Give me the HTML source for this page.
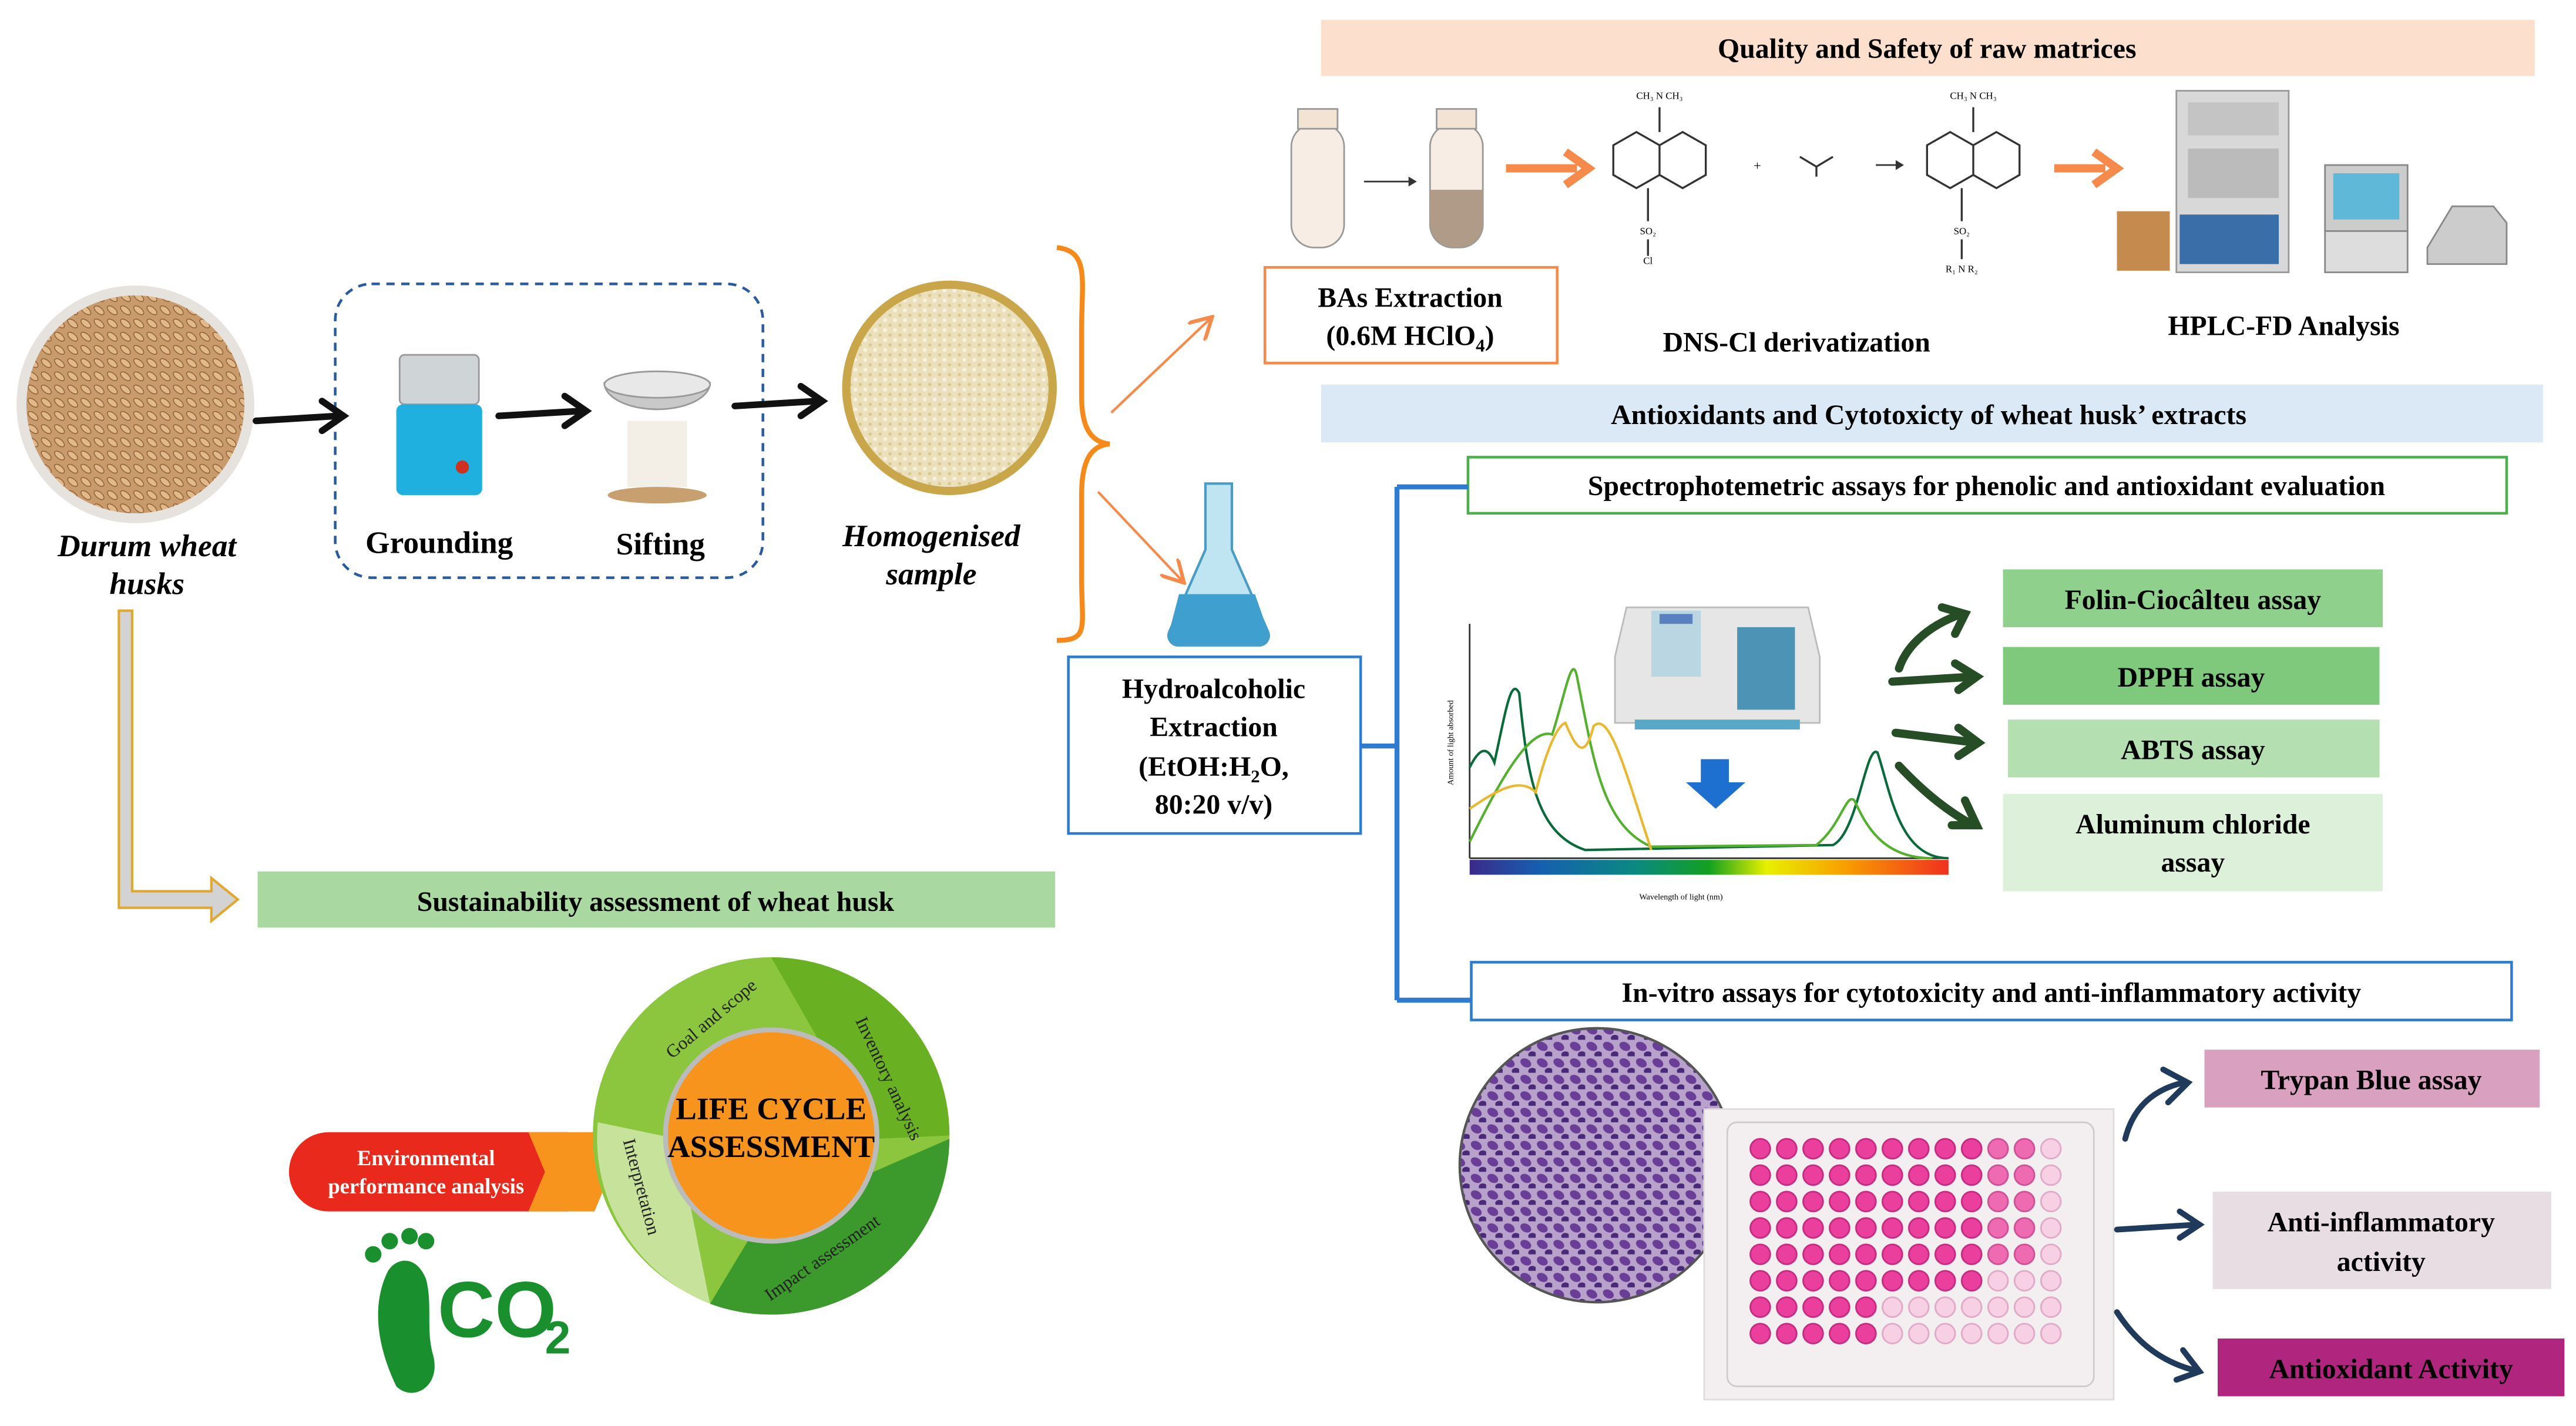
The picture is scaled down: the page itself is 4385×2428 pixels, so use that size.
<!DOCTYPE html>
<html><head><meta charset="utf-8"><style>html,body{margin:0;padding:0;background:#fff}svg{display:block}</style></head><body>
<svg width="4385" height="2428" viewBox="0 0 1560 864" preserveAspectRatio="none" xmlns="http://www.w3.org/2000/svg" font-family="Liberation Serif, serif">
<defs>
<radialGradient id="wheat" cx="50%" cy="50%" r="50%"><stop offset="0" stop-color="#c9986a"/><stop offset="0.85" stop-color="#b88556"/><stop offset="1" stop-color="#e8e4e0"/></radialGradient>
<radialGradient id="flour" cx="50%" cy="50%" r="50%"><stop offset="0" stop-color="#efe3bf"/><stop offset="0.85" stop-color="#e4d6a8"/><stop offset="1" stop-color="#c9a64a"/></radialGradient>
<pattern id="wellpat" x="1058" y="688" width="16" height="16" patternUnits="userSpaceOnUse"><circle cx="8" cy="8" r="6" fill="#ea3f9c" stroke="#c42a80" stroke-width="1"/></pattern>
<pattern id="wellpale" x="1058" y="688" width="16" height="16" patternUnits="userSpaceOnUse"><circle cx="8" cy="8" r="6" fill="#f8d0e4" stroke="#e0a8c8" stroke-width="1"/></pattern>
<pattern id="cellpat" width="10" height="10" patternUnits="userSpaceOnUse"><rect width="10" height="10" fill="#b8a2cc"/><ellipse cx="4" cy="4" rx="3.5" ry="2.5" fill="#6a3d96" transform="rotate(30 4 4)"/><ellipse cx="8" cy="9" rx="2.5" ry="2" fill="#4a2a78"/></pattern>
<pattern id="grain" width="8" height="8" patternUnits="userSpaceOnUse"><rect width="8" height="8" fill="#c99a6c"/><ellipse cx="4" cy="4" rx="3.6" ry="1.8" fill="#e2b98a" stroke="#8a5a32" stroke-width="0.5" transform="rotate(40 4 4)"/></pattern>
<pattern id="flourpat" width="6" height="6" patternUnits="userSpaceOnUse"><rect width="6" height="6" fill="#ebe0bb"/><circle cx="2" cy="2" r="1.2" fill="#f8f2dc"/><circle cx="5" cy="5" r="1" fill="#d8c990"/></pattern>
<linearGradient id="spec" x1="0" x2="1"><stop offset="0" stop-color="#3b2a8a"/><stop offset="0.15" stop-color="#1560b0"/><stop offset="0.35" stop-color="#0b8a80"/><stop offset="0.5" stop-color="#12a020"/><stop offset="0.62" stop-color="#e8f000"/><stop offset="0.78" stop-color="#f8a000"/><stop offset="1" stop-color="#f03020"/></linearGradient>
<marker id="oa" markerWidth="10" markerHeight="10" refX="8" refY="5" orient="auto"><path d="M0,0 L9,5 L0,10" fill="none" stroke="#f58a4a" stroke-width="1.5"/></marker>
</defs>

<rect x="800" y="12" width="735" height="34" fill="#fce0cd"/>
<text x="1167" y="35" font-size="17" font-weight="bold" text-anchor="middle">Quality and Safety of raw matrices</text>
<rect x="782" y="75" width="32" height="75" rx="14" fill="#f8ede4" stroke="#999"/>
<rect x="786" y="66" width="24" height="12" fill="#f3e3d3" stroke="#999"/>
<rect x="866" y="75" width="32" height="75" rx="14" fill="#f8ede4" stroke="#999"/>
<path d="M866,115 H898 V136 A16,14 0 0 1 866,136 Z" fill="#b09a88"/>
<rect x="870" y="66" width="24" height="12" fill="#f3e3d3" stroke="#999"/>
<path d="M826,110 H856" stroke="#333" stroke-width="1"/><path d="M853,107 L858,110 L853,113" fill="#333"/>
<path d="M912,102 H955" stroke="#f58a4a" stroke-width="5"/><path d="M948,92 L962,102 L948,112" fill="none" stroke="#f58a4a" stroke-width="5"/>
<path d="M1244,102 H1275" stroke="#f58a4a" stroke-width="5"/><path d="M1268,92 L1282,102 L1268,112" fill="none" stroke="#f58a4a" stroke-width="5"/>
<g fill="none" stroke="#333" stroke-width="1.2">
<path d="M977,88 l14,-8 14,8 v18 l-14,8 -14,-8z M1005,88 l14,-8 14,8 v18 l-14,8 -14,-8z M1005,80 v-15 M998,114 v20 M998,145 v10"/>
<path d="M1167,88 l14,-8 14,8 v18 l-14,8 -14,-8z M1195,88 l14,-8 14,8 v18 l-14,8 -14,-8z M1195,80 v-15 M1188,114 v20 M1188,145 v12"/>
<path d="M1090,95 l10,6 10,-6 M1100,101 v6"/>
</g>
<text x="1005" y="60" font-size="6" text-anchor="middle">CH₃ N CH₃</text><text x="998" y="142" font-size="6" text-anchor="middle">SO₂</text><text x="998" y="160" font-size="6" text-anchor="middle">Cl</text>
<text x="1195" y="60" font-size="6" text-anchor="middle">CH₃ N CH₃</text><text x="1188" y="142" font-size="6" text-anchor="middle">SO₂</text><text x="1188" y="165" font-size="6" text-anchor="middle">R₁ N R₂</text>
<text x="1062" y="103" font-size="8">+</text><path d="M1136,100 h14" stroke="#333"/><path d="M1148,97 l5,3 -5,3" fill="#333"/>
<rect x="1318" y="55" width="68" height="110" fill="#d8d8d8" stroke="#999"/>
<rect x="1325" y="62" width="55" height="20" fill="#c4c4c4"/><rect x="1325" y="90" width="55" height="30" fill="#bbb"/>
<rect x="1320" y="130" width="60" height="30" fill="#3a6ea8"/>
<rect x="1282" y="128" width="32" height="36" fill="#c58a4e"/>
<rect x="1408" y="100" width="50" height="40" fill="#ccc" stroke="#888"/><rect x="1413" y="105" width="40" height="28" fill="#5fb8d8"/>
<rect x="1408" y="140" width="50" height="25" fill="#ddd" stroke="#888"/>
<path d="M1470,150 l15,-25 h25 l8,10 v25 h-48z" fill="#ccc" stroke="#888"/>
<rect x="766" y="162" width="177" height="58" fill="#fff" stroke="#f58a4a" stroke-width="1.6"/>
<text x="854" y="186" font-size="17" font-weight="bold" text-anchor="middle">BAs Extraction</text>
<text x="854" y="209" font-size="17" font-weight="bold" text-anchor="middle">(0.6M HClO<tspan font-size="11" dy="4">4</tspan><tspan dy="-4">)</tspan></text>
<text x="1088" y="213" font-size="17" font-weight="bold" text-anchor="middle">DNS-Cl derivatization</text>
<text x="1383" y="203" font-size="17" font-weight="bold" text-anchor="middle">HPLC-FD Analysis</text>

<rect x="800" y="233" width="740" height="35" fill="#dbe9f6"/>
<text x="1168" y="257" font-size="17" font-weight="bold" text-anchor="middle">Antioxidants  and Cytotoxicty of wheat husk’ extracts</text>
<rect x="889" y="277" width="629" height="34" fill="#fff" stroke="#4cae4c" stroke-width="1.6"/>
<text x="1203" y="300" font-size="17" font-weight="bold" text-anchor="middle">Spectrophotemetric assays for phenolic and antioxidant evaluation</text>
<path d="M824,452 H846 M846,295 V606 M846,295 H889 M846,606 H891" stroke="#2e7bd0" stroke-width="3" fill="none"/>
<rect x="647" y="398" width="177" height="107" fill="#fff" stroke="#2e7bd0" stroke-width="1.6"/>
<g font-size="17" font-weight="bold" text-anchor="middle"><text x="735" y="423">Hydroalcoholic</text><text x="735" y="446">Extraction</text><text x="735" y="470">(EtOH:H<tspan font-size="11" dy="4">2</tspan><tspan dy="-4">O,</tspan></text><text x="735" y="493">80:20 v/v)</text></g>
<path d="M730,293 h16 v40 l22,50 a6,6 0 0 1 -5,8 h-50 a6,6 0 0 1 -5,-8 l22,-50z" fill="#bfe4f2" stroke="#4a9cc4" stroke-width="1.5"/>
<path d="M714,360 h46 l8,23 a6,6 0 0 1 -5,8 h-50 a6,6 0 0 1 -5,-8z" fill="#3f9fcf"/>
<path d="M890,520 V378 M890,520 H1180" stroke="#333" stroke-width="1"/>
<rect x="890" y="521" width="290" height="9" fill="url(#spec)"/>
<text x="1018" y="545" font-size="5" text-anchor="middle">Wavelength of light (nm)</text>
<text x="880" y="450" font-size="5" transform="rotate(-90 880 450)" text-anchor="middle">Amount of light absorbed</text>
<path d="M890,465 C895,455 900,450 905,462 C912,430 915,410 920,420 C925,470 930,505 960,515 L1110,512 C1125,505 1130,450 1137,456 C1145,480 1150,520 1180,520" fill="none" stroke="#0a6b3a" stroke-width="1.5"/>
<path d="M890,510 C905,480 925,440 940,445 C948,420 952,395 955,410 C965,460 970,500 1000,513 L1100,512 C1115,500 1118,480 1123,485 C1130,500 1140,520 1170,520" fill="none" stroke="#55b030" stroke-width="1.5"/>
<path d="M890,490 C905,480 920,470 930,480 C935,460 942,440 948,438 C955,455 960,460 965,440 C975,430 985,470 1000,515" fill="none" stroke="#e8b830" stroke-width="1.5"/>
<path d="M985,368 h110 l7,30 v40 h-124 v-40z" fill="#e6e6e6" stroke="#bbb"/>
<rect x="1000" y="370" width="30" height="40" fill="#b9d6e2"/><rect x="1005" y="372" width="20" height="6" fill="#5a80c0"/>
<rect x="1052" y="380" width="35" height="50" fill="#4c93b5"/>
<rect x="990" y="436" width="100" height="6" fill="#5aa8c8"/>
<path d="M1030,460 h17 v14 h10 l-18,16 -18,-16 h9z" fill="#1d6fd0"/>
<g fill="none" stroke="#264d25" stroke-width="5" stroke-linecap="round">
<path d="M1150,405 C1155,390 1170,378 1188,372"/><path d="M1176,368 L1190,372 L1184,384"/>
<path d="M1146,413 L1195,410"/><path d="M1184,402 L1197,410 L1186,418"/>
<path d="M1148,444 L1197,450"/><path d="M1186,441 L1198,450 L1186,458"/>
<path d="M1150,464 C1165,480 1180,492 1195,500"/><path d="M1190,485 L1197,500 L1182,500"/>
</g>
<rect x="1213" y="345" width="230" height="35" fill="#8fd08c"/><text x="1328" y="369" font-size="17" font-weight="bold" text-anchor="middle">Folin-Ciocâlteu  assay</text>
<rect x="1213" y="392" width="228" height="35" fill="#7ec97b"/><text x="1327" y="416" font-size="17" font-weight="bold" text-anchor="middle">DPPH assay</text>
<rect x="1216" y="436" width="225" height="35" fill="#b4dfb0"/><text x="1328" y="460" font-size="17" font-weight="bold" text-anchor="middle">ABTS assay</text>
<rect x="1213" y="481" width="230" height="59" fill="#ddf1da"/><text x="1328" y="505" font-size="17" font-weight="bold" text-anchor="middle">Aluminum chloride</text><text x="1328" y="528" font-size="17" font-weight="bold" text-anchor="middle">assay</text>

<rect x="891" y="583" width="630" height="35" fill="#fff" stroke="#2e7bd0" stroke-width="1.6"/>
<text x="1206" y="607" font-size="17" font-weight="bold" text-anchor="middle">In-vitro assays for cytotoxicity and anti-inflammatory activity</text>
<circle cx="967" cy="706" r="83" fill="url(#cellpat)" stroke="#555" stroke-width="1.5"/>
<rect x="1032" y="672" width="248" height="176" fill="#f3eef0" stroke="#ddd"/>
<rect x="1046" y="680" width="222" height="160" rx="6" fill="none" stroke="#ccc"/>
<rect x="1058" y="688" width="192" height="128" fill="url(#wellpale)"/>
<rect x="1058" y="688" width="144" height="96" fill="url(#wellpat)"/>
<rect x="1202" y="688" width="32" height="80" fill="url(#wellpat)" opacity="0.7"/>
<rect x="1058" y="784" width="80" height="32" fill="url(#wellpat)"/>
<g fill="none" stroke="#1f3a5a" stroke-width="3.5" stroke-linecap="round">
<path d="M1287,690 C1292,670 1305,660 1322,656"/><path d="M1310,648 L1325,656 L1313,668"/>
<path d="M1282,745 L1330,742"/><path d="M1320,734 L1332,742 L1320,750"/>
<path d="M1282,795 C1295,815 1310,825 1328,830"/><path d="M1322,818 L1332,831 L1318,836"/>
</g>
<rect x="1335" y="636" width="203" height="35" fill="#d9a0c0"/><text x="1436" y="660" font-size="17" font-weight="bold" text-anchor="middle">Trypan Blue assay</text>
<rect x="1340" y="722" width="205" height="59" fill="#e8dde3"/><text x="1442" y="746" font-size="17" font-weight="bold" text-anchor="middle">Anti-inflammatory</text><text x="1442" y="770" font-size="17" font-weight="bold" text-anchor="middle">activity</text>
<rect x="1343" y="811" width="210" height="35" fill="#b0267f"/><text x="1448" y="835" font-size="17" font-weight="bold" text-anchor="middle">Antioxidant  Activity</text>

<circle cx="82" cy="245" r="72" fill="#e6e2de"/>
<circle cx="82" cy="245" r="66" fill="url(#grain)"/>
<text x="89" y="337" font-size="19" font-weight="bold" font-style="italic" text-anchor="middle">Durum wheat</text>
<text x="89" y="360" font-size="19" font-weight="bold" font-style="italic" text-anchor="middle">husks</text>
<rect x="203" y="172" width="259" height="178" rx="22" fill="none" stroke="#2a5aa0" stroke-width="1.6" stroke-dasharray="5,4"/>
<g fill="none" stroke="#111" stroke-width="4" stroke-linecap="round">
<path d="M155,255 L205,252"/><path d="M195,243 L208,252 L195,261"/>
<path d="M302,252 L352,249"/><path d="M342,240 L355,249 L342,258"/>
<path d="M445,246 L495,243"/><path d="M485,234 L498,243 L485,252"/>
</g>
<rect x="242" y="215" width="48" height="30" rx="3" fill="#cfd4d6" stroke="#999"/>
<rect x="240" y="245" width="52" height="55" rx="4" fill="#1fb0e0"/><circle cx="280" cy="283" r="4" fill="#d03020"/>
<path d="M366,232 A32,16 0 0 0 430,232 Z" fill="#c9c9c9" stroke="#999"/><ellipse cx="398" cy="233" rx="32" ry="8" fill="#e8e8e8" stroke="#999"/>
<rect x="380" y="255" width="36" height="40" fill="#f3eee6"/><ellipse cx="398" cy="300" rx="30" ry="5" fill="#c8a070"/>
<text x="266" y="335" font-size="19" font-weight="bold" text-anchor="middle">Grounding</text>
<text x="400" y="336" font-size="19" font-weight="bold" text-anchor="middle">Sifting</text>
<circle cx="575" cy="235" r="65" fill="#c9a64a"/>
<circle cx="575" cy="235" r="60" fill="url(#flourpat)"/>
<text x="564" y="331" font-size="19" font-weight="bold" font-style="italic" text-anchor="middle">Homogenised</text>
<text x="564" y="354" font-size="19" font-weight="bold" font-style="italic" text-anchor="middle">sample</text>
<path d="M640,150 C660,152 655,170 655,200 V240 C655,258 660,268 672,269 C660,270 655,280 655,300 V350 C655,380 660,388 640,388" fill="none" stroke="#f58a1a" stroke-width="3"/>
<path d="M673,250 L733,193" stroke="#f58a4a" stroke-width="1.5" marker-end="url(#oa)"/>
<path d="M665,298 L716,352" stroke="#f58a4a" stroke-width="1.5" marker-end="url(#oa)"/>
<path d="M72,370 h8 v170 h48 v-8 l16,13 -16,13 v-8 h-56z" fill="#d3d3d3" stroke="#e0a830" stroke-width="1.5"/>
<rect x="156" y="528" width="483" height="34" fill="#a9d8a0"/>
<text x="397" y="552" font-size="17" font-weight="bold" text-anchor="middle">Sustainability  assessment of wheat husk</text>
<path d="M175,710 a24,24 0 0 1 24,-24 h145 l-4,24 4,24 h-145 a24,24 0 0 1 -24,-24z" fill="#e8291c"/>
<path d="M320,686 h40 l10,24 -10,24 h-40 l10,-24z" fill="#f7941d"/>
<text x="258" y="706" font-size="13" font-weight="bold" fill="#fff" text-anchor="middle">Environmental</text>
<text x="258" y="723" font-size="13" font-weight="bold" fill="#fff" text-anchor="middle">performance analysis</text>
<circle cx="467" cy="688" r="108" fill="#8cc63f"/>
<path d="M467,580 A108,108 0 0 1 575,688 L530,690 Z" fill="#6ab023"/>
<path d="M575,690 A108,108 0 0 1 430,790 L460,740 Z" fill="#3c9a2c"/>
<path d="M430,790 A108,108 0 0 1 362,680 L410,690 Z" fill="#c7e29a"/>
<circle cx="467" cy="688" r="64" fill="#f7941d" stroke="#bbb" stroke-width="3"/>
<text x="467" y="678" font-size="19" font-weight="bold" text-anchor="middle">LIFE CYCLE</text>
<text x="467" y="701" font-size="19" font-weight="bold" text-anchor="middle">ASSESSMENT</text>
<text x="433" y="620" font-size="11" fill="#222" transform="rotate(-40 433 620)" text-anchor="middle">Goal and scope</text>
<text x="535" y="655" font-size="11" fill="#222" transform="rotate(65 535 655)" text-anchor="middle">Inventory analysis</text>
<text x="500" y="765" font-size="11" fill="#222" transform="rotate(-35 500 765)" text-anchor="middle">Impact assessment</text>
<text x="385" y="720" font-size="11" fill="#222" transform="rotate(75 385 720)" text-anchor="middle">Interpretation</text>
<path d="M235,770 C225,790 228,815 240,840 C250,850 268,840 262,820 C258,805 262,790 258,775 C252,760 240,762 235,770z" fill="#1a8f2e"/>
<circle cx="226" cy="760" r="5" fill="#1a8f2e"/><circle cx="236" cy="752" r="5" fill="#1a8f2e"/><circle cx="248" cy="749" r="5" fill="#1a8f2e"/><circle cx="258" cy="752" r="5" fill="#1a8f2e"/>
<text x="265" y="810" font-size="48" font-weight="bold" fill="#1a8f2e" font-family="Liberation Sans, sans-serif">CO</text>
<text x="330" y="820" font-size="28" font-weight="bold" fill="#1a8f2e" font-family="Liberation Sans, sans-serif">2</text>
</svg>
</body></html>
